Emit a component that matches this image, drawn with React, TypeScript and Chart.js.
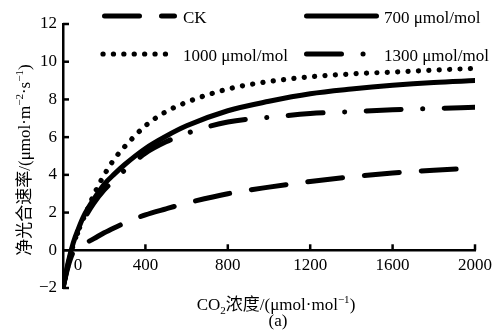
import React, { useEffect, useRef } from 'react';
import { Chart, registerables } from 'chart.js';

Chart.register(...registerables);

// ---- data ----
const co2 = [0, 25, 50, 75, 100, 150, 200, 250, 300, 400, 500, 600, 800, 1000, 1200, 1400, 1600, 1800, 2000];
const ckValues = [-2, -0.85, -0.1, 0.15, 0.32, 0.62, 0.93, 1.2, 1.45, 1.88, 2.2, 2.5, 3.0, 3.35, 3.65, 3.9, 4.1, 4.25, 4.35];
const v700 = [-2, -0.65, 0.4, 1.15, 1.8, 2.72, 3.5, 4.05, 4.55, 5.4, 6.05, 6.6, 7.4, 7.9, 8.3, 8.55, 8.75, 8.9, 9.0];
const v1000 = [-2, -0.8, 0.3, 1.05, 1.7, 2.95, 4.0, 4.85, 5.5, 6.6, 7.35, 7.85, 8.55, 8.95, 9.2, 9.35, 9.45, 9.55, 9.65];
const v1300 = [-2, -0.75, 0.3, 1.0, 1.6, 2.5, 3.2, 3.75, 4.25, 5.15, 5.75, 6.2, 6.8, 7.05, 7.25, 7.35, 7.45, 7.52, 7.58];
const seriesNames = ['CK', '700 μmol/mol', '1000 μmol/mol', '1300 μmol/mol'];
const xTicks = [0, 400, 800, 1200, 1600, 2000];
const yTicks = [-2, 0, 2, 4, 6, 8, 10, 12];

const SERIF = "'Liberation Serif', 'Times New Roman', 'Noto Sans CJK SC', serif";
const FS = 17;

const dashCK = [35, 22];
const dashSolid: number[] = [];
const dashDot = [0.1, 10.3];
const dashDashDot = [35, 21.5, 0.1, 21.5];

type Seg = { t: string; m?: 'sup' | 'sub' };

function richWidth(ctx: CanvasRenderingContext2D, segs: Seg[], size: number) {
  let w = 0;
  for (const s of segs) {
    const fs = s.m ? size * 0.65 : size;
    ctx.font = `${fs}px ${SERIF}`;
    w += ctx.measureText(s.t).width;
  }
  return w;
}

function drawRich(ctx: CanvasRenderingContext2D, segs: Seg[], cx: number, by: number, size: number) {
  const w = richWidth(ctx, segs, size);
  let x = cx - w / 2;
  ctx.textAlign = 'left';
  ctx.textBaseline = 'alphabetic';
  for (const s of segs) {
    const fs = s.m ? size * 0.65 : size;
    ctx.font = `${fs}px ${SERIF}`;
    const dy = s.m === 'sup' ? -size * 0.4 : s.m === 'sub' ? size * 0.22 : 0;
    ctx.fillText(s.t, x, by + dy);
    x += ctx.measureText(s.t).width;
  }
}

const overlayPlugin = {
  id: 'overlay',
  afterDraw(chart: any) {
    const ctx: CanvasRenderingContext2D = chart.ctx;
    const xs = chart.scales.x;
    const ys = chart.scales.y;
    const left = chart.chartArea.left;
    const y0 = ys.getPixelForValue(0);
    ctx.save();
    ctx.strokeStyle = '#000';
    ctx.fillStyle = '#000';
    ctx.lineWidth = 2.5;
    ctx.lineCap = 'butt';
    ctx.setLineDash([]);
    // inward tick marks
    xTicks.forEach((v) => {
      if (v === 0) return;
      const px = xs.getPixelForValue(v);
      ctx.beginPath();
      ctx.moveTo(px, y0);
      ctx.lineTo(px, y0 - 6);
      ctx.stroke();
    });
    yTicks.forEach((v) => {
      const py = ys.getPixelForValue(v);
      ctx.beginPath();
      ctx.moveTo(left, py);
      ctx.lineTo(left + 6, py);
      ctx.stroke();
    });
    // x tick labels
    ctx.font = `${FS}px ${SERIF}`;
    ctx.textAlign = 'center';
    ctx.textBaseline = 'alphabetic';
    xTicks.forEach((v) => {
      const px = xs.getPixelForValue(v) + (v === 0 ? 15 : 0);
      ctx.fillText(String(v), px, y0 + 20);
    });
    // x title
    drawRich(ctx, [{ t: 'CO' }, { t: '2', m: 'sub' }, { t: '浓度/(μmol·mol' }, { t: '−1', m: 'sup' }, { t: ')' }], 276, 310, FS);
    drawRich(ctx, [{ t: '(a)' }], 278, 326, FS);
    // y title
    ctx.save();
    ctx.translate(30, 160);
    ctx.rotate(-Math.PI / 2);
    drawRich(ctx, [{ t: '净光合速率/(μmol·m' }, { t: '−2', m: 'sup' }, { t: '·s' }, { t: '−1', m: 'sup' }, { t: ')' }], 0, 0, FS);
    ctx.restore();
    // legend
    const items = [
      { name: seriesNames[0], dash: dashCK, x1: 104.5, x2: 174.5, y: 16, tx: 183, w: 5 },
      { name: seriesNames[1], dash: dashSolid, x1: 306.5, x2: 376.5, y: 16, tx: 384, w: 5 },
      { name: seriesNames[2], dash: dashDot, x1: 103, x2: 168, y: 54, tx: 183, w: 5.2 },
      { name: seriesNames[3], dash: dashDashDot, x1: 306.5, x2: 364.2, y: 54, tx: 384, w: 5 },
    ];
    items.forEach((it) => {
      ctx.lineWidth = it.w;
      ctx.lineCap = 'round';
      ctx.setLineDash(it.dash);
      ctx.beginPath();
      ctx.moveTo(it.x1, it.y);
      ctx.lineTo(it.x2, it.y);
      ctx.stroke();
      ctx.setLineDash([]);
      ctx.font = `${FS}px ${SERIF}`;
      ctx.textAlign = 'left';
      ctx.textBaseline = 'alphabetic';
      ctx.fillText(it.name, it.tx, it.y + 6.5);
    });
    ctx.restore();
  },
};

function pts(vals: number[]) {
  return co2.map((x, i) => ({ x, y: vals[i] }));
}

export default function App() {
  const ref = useRef<HTMLCanvasElement | null>(null);
  useEffect(() => {
    if (!ref.current) return;
    const mk = (label: string, vals: number[], dash: number[], w: number) => ({
      label,
      data: pts(vals),
      borderColor: '#000',
      backgroundColor: '#000',
      borderWidth: w,
      borderDash: dash,
      borderCapStyle: 'round' as const,
      borderJoinStyle: 'round' as const,
      pointRadius: 0,
      fill: false,
      cubicInterpolationMode: 'monotone' as const,
    });
    const chart = new Chart(ref.current, {
      type: 'line',
      data: {
        datasets: [
          mk(seriesNames[0], ckValues, dashCK, 5),
          mk(seriesNames[1], v700, dashSolid, 5),
          mk(seriesNames[2], v1000, dashDot, 5.2),
          mk(seriesNames[3], v1300, dashDashDot, 5),
        ],
      },
      options: {
        animation: false,
        responsive: false,
        maintainAspectRatio: false,
        layout: { padding: { top: 24, right: 19, bottom: 44, left: 0 } },
        plugins: { legend: { display: false }, tooltip: { enabled: false } },
        scales: {
          x: {
            type: 'linear',
            min: 0,
            max: 2000,
            position: { y: 0 } as any,
            afterBuildTicks: (s: any) => {
              s.ticks = xTicks.map((v) => ({ value: v }));
            },
            ticks: { display: false },
            grid: { display: false, drawTicks: false },
            border: { display: true, color: '#000', width: 2.5 },
          },
          y: {
            type: 'linear',
            min: -2,
            max: 12,
            afterBuildTicks: (s: any) => {
              s.ticks = yTicks.map((v) => ({ value: v }));
            },
            ticks: {
              color: '#000',
              padding: 6,
              font: { size: FS, family: SERIF },
              callback: (v: any) => String(v).replace('-', '−'),
            },
            grid: { display: false, drawTicks: false },
            border: { display: true, color: '#000', width: 2.5 },
            afterFit: (s: any) => {
              s.width = 63;
            },
          },
        },
      },
      plugins: [overlayPlugin],
    });
    return () => chart.destroy();
  }, []);
  return (
    <div style={{ position: 'fixed', left: 0, top: 0, width: 494, height: 332, background: '#fff' }}>
      <canvas ref={ref} width={494} height={332} style={{ width: 494, height: 332, display: 'block' }} />
    </div>
  );
}
